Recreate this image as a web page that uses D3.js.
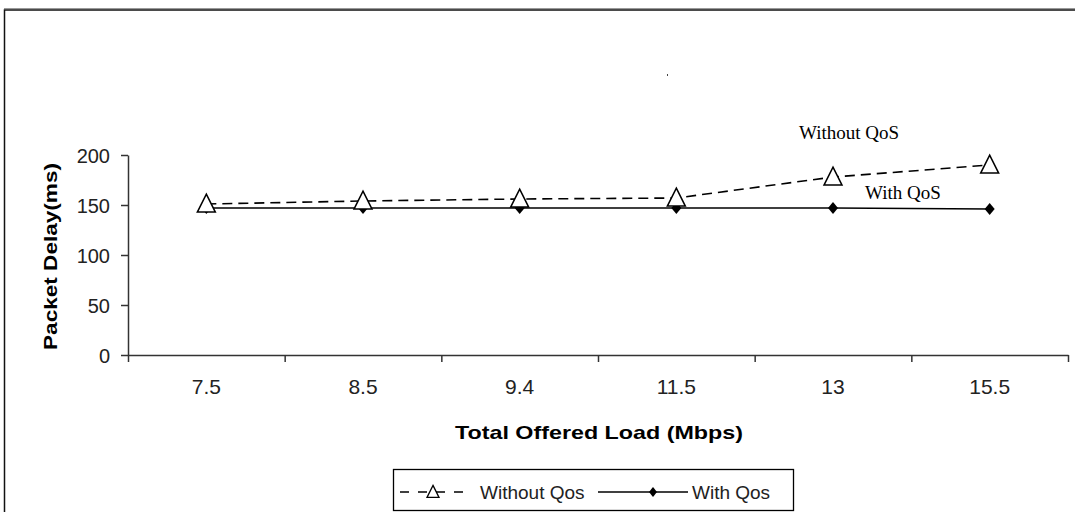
<!DOCTYPE html>
<html>
<head>
<meta charset="utf-8">
<script src="https://cdn.jsdelivr.net/npm/d3@7/dist/d3.min.js"></script>
<style>
  html, body { margin: 0; padding: 0; background: #fff; }
  svg { display: block; }
</style>
</head>
<body>
<svg id="chart" width="1075" height="512"></svg>
<script>
// ---- data ----
const categories = ["7.5", "8.5", "9.4", "11.5", "13", "15.5"];
const withoutQos = [151, 154, 156, 157, 178, 190];
const withQos = [147, 147, 147, 147, 147, 146];
const yTicks = [0, 50, 100, 150, 200];
const seriesNames = ["Without Qos", "With Qos"];

const svg = d3.select("#chart");
const W = 1075, H = 512;

// background + frame
svg.append("rect").attr("x", 0).attr("y", 0).attr("width", W).attr("height", H).attr("fill", "#fff");
svg.append("line").attr("x1", 4).attr("x2", W).attr("y1", 8.5).attr("y2", 8.5).attr("stroke", "#999").attr("stroke-width", 1);
svg.append("rect").attr("x", 4.5).attr("y", 10).attr("width", W + 20).attr("height", H + 20)
  .attr("fill", "none").attr("stroke", "#111").attr("stroke-width", 1.5);
// small speck in the reference
svg.append("rect").attr("x", 667).attr("y", 74).attr("width", 1).attr("height", 2).attr("fill", "#444");

const plot = { left: 128, right: 1068, top: 155, bottom: 355 };

const x = d3.scaleBand().domain(categories).range([plot.left, plot.right]).padding(0);
const xIdx = d3.scaleLinear().domain([0, categories.length]).range([plot.left, plot.right]);
const y = d3.scaleLinear().domain([0, 200]).range([plot.bottom, plot.top]);

const axisColor = "#333";
const labelColor = "#222";

// y axis
const yAxis = svg.append("g").attr("transform", `translate(${plot.left},0)`)
  .call(d3.axisLeft(y).tickValues(yTicks).tickSize(7).tickSizeOuter(0).tickPadding(11));
yAxis.select(".domain").attr("stroke", axisColor).attr("stroke-width", 1.5);
yAxis.selectAll(".tick line").attr("stroke", axisColor).attr("stroke-width", 1.5);
yAxis.selectAll(".tick text")
  .attr("font-family", "Arial, 'Liberation Sans', sans-serif")
  .attr("font-size", 20).attr("fill", labelColor).attr("dy", "0.35em");

// x axis tick marks (between categories)
const xTicksAxis = svg.append("g").attr("transform", `translate(0,${plot.bottom})`)
  .call(d3.axisBottom(xIdx).tickValues(d3.range(0, categories.length + 1)).tickSize(7).tickSizeOuter(0).tickFormat(""));
xTicksAxis.select(".domain").attr("stroke", axisColor).attr("stroke-width", 1.5);
xTicksAxis.selectAll(".tick line").attr("stroke", axisColor).attr("stroke-width", 1.5);

// x axis labels
const xLab = svg.append("g").attr("transform", `translate(0,${plot.bottom})`)
  .call(d3.axisBottom(x).tickSize(0).tickSizeOuter(0));
xLab.select(".domain").remove();
xLab.selectAll(".tick text")
  .attr("font-family", "Arial, 'Liberation Sans', sans-serif")
  .attr("font-size", 21).attr("fill", labelColor)
  .attr("y", 39).attr("dy", 0);

// axis titles
svg.append("text")
  .attr("transform", `translate(57,${(163 + 350) / 2}) rotate(-90)`)
  .attr("text-anchor", "middle")
  .attr("font-family", "Arial, 'Liberation Sans', sans-serif")
  .attr("font-weight", "bold").attr("font-size", 19).attr("fill", "#000")
  .attr("textLength", 187).attr("lengthAdjust", "spacingAndGlyphs")
  .text("Packet Delay(ms)");

svg.append("text")
  .attr("x", 599).attr("y", 439)
  .attr("text-anchor", "middle")
  .attr("font-family", "Arial, 'Liberation Sans', sans-serif")
  .attr("font-weight", "bold").attr("font-size", 19).attr("fill", "#000")
  .attr("textLength", 288).attr("lengthAdjust", "spacingAndGlyphs")
  .text("Total Offered Load (Mbps)");

// lines
const cx = d => x(d) + x.bandwidth() / 2;
const line = d3.line().x(d => cx(d.c)).y(d => y(d.v));
const dataWithout = categories.map((c, i) => ({ c, v: withoutQos[i] }));
const dataWith = categories.map((c, i) => ({ c, v: withQos[i] }));

svg.append("path").datum(dataWith).attr("d", line)
  .attr("fill", "none").attr("stroke", "#000").attr("stroke-width", 1.6);
svg.append("path").datum(dataWithout).attr("d", line)
  .attr("fill", "none").attr("stroke", "#000").attr("stroke-width", 1.6)
  .attr("stroke-dasharray", "10,6");

// markers
const tri = (s) => `M0,${-s * 0.55}L${s / 2},${s * 0.45}L${-s / 2},${s * 0.45}Z`;
const diamond = (w, h) => `M0,${-h / 2}L${w / 2},0L0,${h / 2}L${-w / 2},0Z`;

svg.append("g").selectAll("path").data(dataWith).join("path")
  .attr("transform", d => `translate(${cx(d.c)},${y(d.v)})`)
  .attr("d", diamond(10, 12)).attr("fill", "#000");

svg.append("g").selectAll("path").data(dataWithout).join("path")
  .attr("transform", d => `translate(${cx(d.c)},${y(d.v)})`)
  .attr("d", tri(18)).attr("fill", "#fff").attr("stroke", "#000").attr("stroke-width", 1.5);

// annotations
svg.append("text").attr("x", 849).attr("y", 139).attr("text-anchor", "middle")
  .attr("font-family", "'Liberation Serif', 'Times New Roman', serif").attr("font-size", 19)
  .attr("fill", "#000").text("Without QoS");
svg.append("text").attr("x", 903).attr("y", 199).attr("text-anchor", "middle")
  .attr("font-family", "'Liberation Serif', 'Times New Roman', serif").attr("font-size", 19)
  .attr("fill", "#000").text("With QoS");

// legend
const lg = svg.append("g");
lg.append("rect").attr("x", 393.5).attr("y", 469.5).attr("width", 400).attr("height", 41)
  .attr("fill", "#fff").attr("stroke", "#000").attr("stroke-width", 1.3);
const ly = 492;
lg.append("line").attr("x1", 400).attr("x2", 467).attr("y1", ly).attr("y2", ly)
  .attr("stroke", "#000").attr("stroke-width", 1.3).attr("stroke-dasharray", "9,9");
lg.append("path").attr("transform", `translate(433,${ly})`).attr("d", tri(12))
  .attr("fill", "#fff").attr("stroke", "#000").attr("stroke-width", 1.3);
lg.append("text").attr("x", 480).attr("y", ly + 7)
  .attr("font-family", "Arial, 'Liberation Sans', sans-serif").attr("font-size", 19)
  .attr("fill", labelColor).text(seriesNames[0]);
lg.append("line").attr("x1", 598).attr("x2", 688).attr("y1", ly).attr("y2", ly)
  .attr("stroke", "#000").attr("stroke-width", 1.3);
lg.append("path").attr("transform", `translate(653,${ly})`).attr("d", diamond(8, 10)).attr("fill", "#000");
lg.append("text").attr("x", 692).attr("y", ly + 7)
  .attr("font-family", "Arial, 'Liberation Sans', sans-serif").attr("font-size", 19)
  .attr("fill", labelColor).text(seriesNames[1]);
</script>
</body>
</html>
